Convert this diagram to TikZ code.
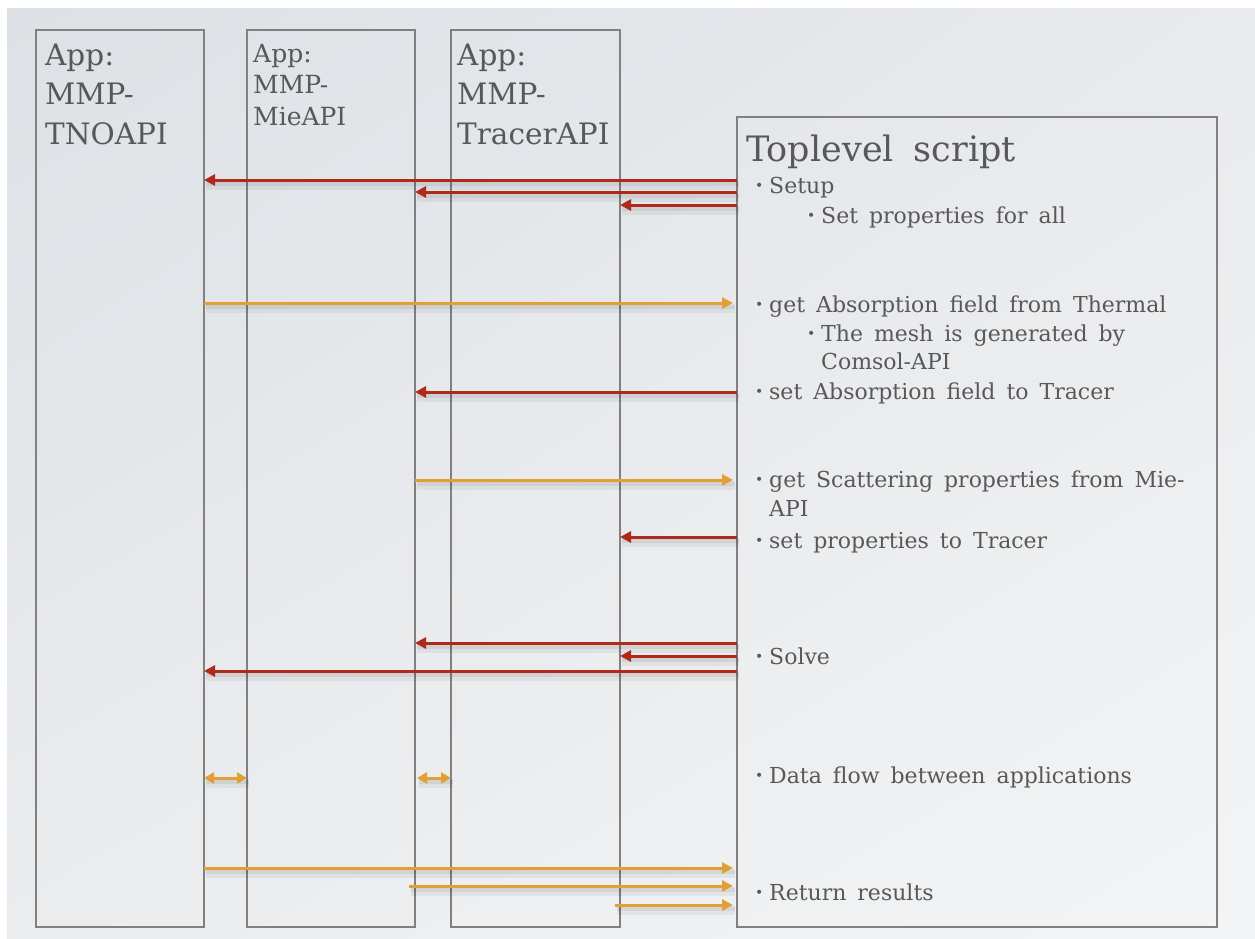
\documentclass[tikz,border=0pt]{standalone}
\usepackage{fontspec}
\setmainfont{DejaVu Serif}
\usetikzlibrary{arrows.meta,shadings}

\definecolor{bgTL}{HTML}{DDE1E5}
\definecolor{bgTR}{HTML}{E8EAED}
\definecolor{bgBL}{HTML}{EAECEE}
\definecolor{bgBR}{HTML}{F3F4F5}
\definecolor{ink}{HTML}{585858}
\definecolor{frame}{HTML}{808080}
\definecolor{callred}{HTML}{B02A1C}
\definecolor{replyorange}{HTML}{E0A033}

% small bullet in a fixed-width slot
\newcommand{\bul}{\makebox[14pt][l]{\raisebox{2.5pt}{\fontsize{14}{14}\selectfont •}}}

\begin{document}
\begin{tikzpicture}[x=1pt,y=-1pt,
  lane/.style={draw=frame, line width=1.7pt, outer sep=0pt, inner sep=0pt},
  apptxt/.style={anchor=base west, inner sep=0pt, text=ink, font=\fontsize{29.5}{35}\selectfont},
  appsmall/.style={anchor=base west, inner sep=0pt, text=ink, font=\fontsize{25}{30}\selectfont},
  headtxt/.style={anchor=base west, inner sep=0pt, text=ink,
    font=\fontsize{35}{44}\selectfont, execute at begin node={\spaceskip=20pt\relax}},
  item/.style={anchor=base west, inner sep=0pt, text=ink,
    font=\fontsize{22}{27}\selectfont, execute at begin node={\spaceskip=11pt\relax}},
  shadowed/.style={
    preaction={draw=black, draw opacity=0.05, line width=9pt, -,
      transform canvas={shift={(2pt,-5pt)}}},
    preaction={draw=black, draw opacity=0.06, line width=4pt, -,
      transform canvas={shift={(2pt,-4pt)}}}},
  call/.style={shadowed, draw=callred, line width=3pt, -{Triangle[length=11pt,width=11pt]}},
  reply/.style={shadowed, draw=replyorange, line width=3pt, -{Triangle[length=11pt,width=11pt]}},
  swap/.style={shadowed, draw=replyorange, line width=3pt,
      {Triangle[length=10pt,width=11pt]}-{Triangle[length=10pt,width=11pt]}}
]
\useasboundingbox (0,0) rectangle (1255,939);
\fill[white] (0,0) rectangle (1255,939);
\shade[upper left=bgTL, upper right=bgTR, lower left=bgBL, lower right=bgBR]
  (7,9) rectangle (1255,939);

% application lanes and the top-level script box
\node[lane, minimum width=168pt, minimum height=897pt] (tno) at (120,478.5) {};
\node[lane, minimum width=168pt, minimum height=897pt] (mie) at (331,478.5) {};
\node[lane, minimum width=169pt, minimum height=897pt] (tracer) at (535.5,478.5) {};
\node[lane, minimum width=480pt, minimum height=810pt] (top) at (977,522) {};

% lane titles
\node[apptxt] (tno1) at (45,66) {App:};
\node[apptxt] (tno2) at (45,105) {MMP-};
\node[apptxt] (tno3) at (45,144) {TNOAPI};
\node[appsmall] (mie1) at (253,63) {App:};
\node[appsmall] (mie2) at (253,94) {MMP-};
\node[appsmall] (mie3) at (253,125) {MieAPI};
\node[apptxt] (trc1) at (457,66) {App:};
\node[apptxt] (trc2) at (457,105) {MMP-};
\node[apptxt] (trc3) at (457,144) {TracerAPI};

% script contents
\node[headtxt] (head) at (746,161) {Toplevel script};
\node[item] (setup) at (755,193) {\bul Setup};
\node[item] (setall) at (807,223) {\bul Set properties for all};
\node[item] (getabs) at (755,312) {\bul get Absorption field from Thermal};
\node[item] (mesh) at (807,341) {\bul The mesh is generated by};
\node[item] (comsol) at (821,369) {Comsol-API};
\node[item] (setabs) at (755,399) {\bul set Absorption field to Tracer};
\node[item] (getsca) at (755,487) {\bul get Scattering properties from Mie-};
\node[item] (api) at (769,516) {API};
\node[item] (setprop) at (755,548) {\bul set properties to Tracer};
\node[item] (solve) at (755,664) {\bul Solve};
\node[item] (flow) at (755,783) {\bul Data flow between applications};
\node[item] (ret) at (755,900) {\bul Return results};

% setup
\draw[call] (top.west |- 0,180) -- (tno.east |- 0,180);
\draw[call] (top.west |- 0,192) -- (mie.east |- 0,192);
\draw[call] (top.west |- 0,205) -- (tracer.east |- 0,205);
% absorption field
\draw[reply] (tno.east |- 0,303) -- ([xshift=-4pt]top.west |- 0,303);
\draw[call] (top.west |- 0,392) -- (mie.east |- 0,392);
% scattering properties
\draw[reply] (mie.east |- 0,480) -- ([xshift=-4pt]top.west |- 0,480);
\draw[call] (top.west |- 0,537) -- (tracer.east |- 0,537);
% solve
\draw[call] (top.west |- 0,643) -- (mie.east |- 0,643);
\draw[call] (top.west |- 0,656) -- (tracer.east |- 0,656);
\draw[call] (top.west |- 0,671) -- (tno.east |- 0,671);
% data flow between applications
\draw[swap] (tno.east |- 0,778) -- (mie.west |- 0,778);
\draw[swap] ([xshift=2pt]mie.east |- 0,778) -- (tracer.west |- 0,778);
% results
\draw[reply] (tno.east |- 0,868) -- ([xshift=-4pt]top.west |- 0,868);
\draw[reply] ([xshift=-6pt]mie.east |- 0,886) -- ([xshift=-4pt]top.west |- 0,886);
\draw[reply] ([xshift=-5pt]tracer.east |- 0,905) -- ([xshift=-4pt]top.west |- 0,905);
\end{tikzpicture}
\end{document}
